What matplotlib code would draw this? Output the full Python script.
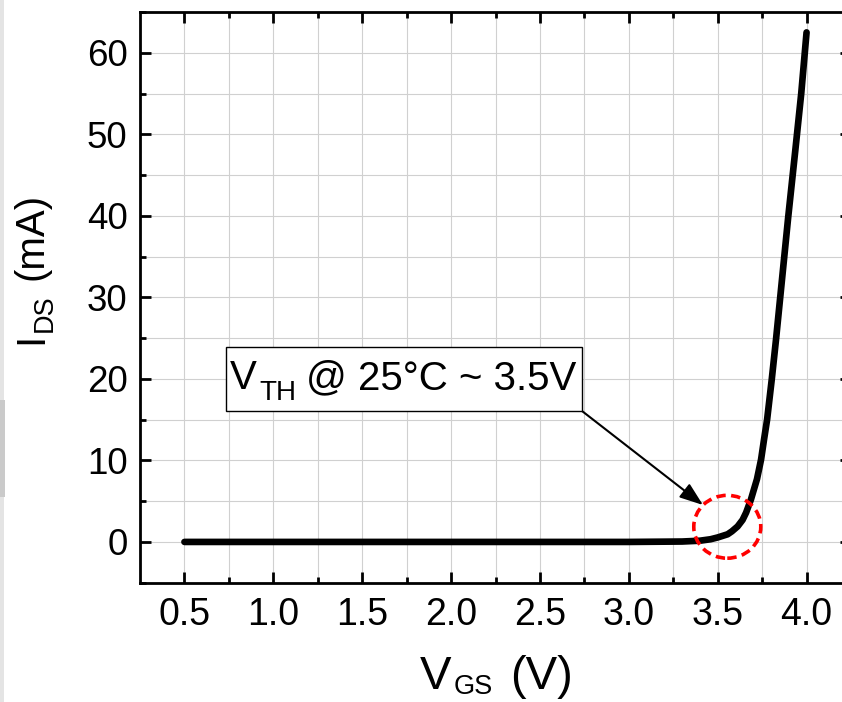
import matplotlib
matplotlib.use("Agg")
import matplotlib.pyplot as plt
from matplotlib.patches import Rectangle, Ellipse
from matplotlib.transforms import IdentityTransform

plt.rcParams['font.family'] = ['Liberation Sans', 'DejaVu Sans']

# ---- data ----
vgs = [0.5, 1.0, 1.5, 2.0, 2.5, 3.0, 3.3, 3.4, 3.46, 3.50, 3.556, 3.58,
       3.612, 3.64, 3.66, 3.687, 3.721, 3.744, 3.761, 3.778, 3.804, 3.828,
       3.860, 3.897, 3.937, 3.97, 4.0]
ids = [0, 0, 0, 0, 0, 0, 0.05, 0.15, 0.33, 0.55, 0.94, 1.3,
       1.9, 2.7, 3.6, 5.2, 7.7, 10.1, 12.6, 15.0, 19.9, 24.8,
       31.8, 39.9, 48.1, 55.0, 62.5]
xticks = [0.5, 1.0, 1.5, 2.0, 2.5, 3.0, 3.5, 4.0]
xticklabels = ['0.5', '1.0', '1.5', '2.0', '2.5', '3.0', '3.5', '4.0']
yticks = [0, 10, 20, 30, 40, 50, 60]
yticklabels = ['0', '10', '20', '30', '40', '50', '60']

W, H = 842, 702
fig = plt.figure(figsize=(W / 100, H / 100), dpi=100)
ax = fig.add_axes([140 / W, 119.3 / H, 711 / W, 570.7 / H])

ax.plot(vgs, ids, color='black', lw=4.8, solid_capstyle='round',
        solid_joinstyle='round', zorder=3)

ax.set_xlim(0.25, 4.25)
ax.set_ylim(-5, 65)
ax.set_xticks(xticks)
ax.set_xticklabels(xticklabels)
ax.set_yticks(yticks)
ax.set_yticklabels(yticklabels)
ax.set_xticks([0.75, 1.25, 1.75, 2.25, 2.75, 3.25, 3.75, 4.25], minor=True)
ax.set_yticks([-5, 5, 15, 25, 35, 45, 55, 65], minor=True)

ax.grid(True, which='both', color='#d0d0d0', lw=0.8, zorder=0)
ax.set_axisbelow(True)

for s in ax.spines.values():
    s.set_linewidth(2)
ax.tick_params(which='both', direction='in', top=True, right=True, width=2,
               color='black')
ax.tick_params(which='major', length=8)
ax.tick_params(which='minor', length=4.3)
ax.tick_params(axis='x', which='major', labelsize=27, pad=10.5)
ax.tick_params(axis='y', which='major', labelsize=26.5, pad=9)

# red dashed circle
ax.add_patch(Ellipse((3.554, 1.86), 0.377, 7.71, fill=False, ec='#ff0000',
                     lw=2.6, linestyle=(0, (2.6, 1.5)), zorder=4))

idt = IdentityTransform()


def ptext(x, y, s, size, rot=0):
    # x, y in image pixel coordinates (origin top-left), baseline-left anchor
    fig.text(x, H - y, s, fontsize=size, ha='left', va='baseline',
             rotation=rot, rotation_mode='anchor', transform=idt)


# x label: V_GS (V)
ptext(420, 689, 'V', 34)
ptext(454, 694.5, 'GS', 19.5)
ptext(510, 689, '(V)', 34)

# y label: I_DS (mA) rotated
fig.text(42.7, H - 343.5, 'I', fontsize=29, ha='left', va='baseline',
         rotation=90, rotation_mode='anchor', transform=idt)
fig.text(52, H - 332, 'DS', fontsize=19.5, ha='left', va='baseline',
         rotation=90, rotation_mode='anchor', transform=idt)
fig.text(42.7, H - 280, '(mA)', fontsize=29, ha='left', va='baseline',
         rotation=90, rotation_mode='anchor', transform=idt)

# annotation box
fig.patches.append(Rectangle((225.7, H - 411), 356.3, 64, transform=idt,
                             fc='white', ec='black', lw=1.0, zorder=1))
ptext(230, 389, 'V', 29)
ptext(259.5, 400, 'TH', 20)
ptext(305.5, 389, '@ 25°C ~ 3.5V', 29)

ax.annotate('', xy=(703, H - 505), xycoords='figure pixels',
            xytext=(582, H - 411), textcoords='figure pixels',
            arrowprops=dict(arrowstyle='-|>,head_length=0.55,head_width=0.2',
                            mutation_scale=26, lw=1.5, color='black',
                            shrinkA=0, shrinkB=0),
            annotation_clip=False, zorder=5)

# gray strip at the left edge of the image
fig.patches.append(Rectangle((0, 0), 4, H, transform=idt, fc='#e4e4e4',
                             ec='none', zorder=1))
fig.patches.append(Rectangle((0, H - 497), 5, 97, transform=idt, fc='#cacaca',
                             ec='none', zorder=1))

fig.savefig('out.png', dpi=100)
